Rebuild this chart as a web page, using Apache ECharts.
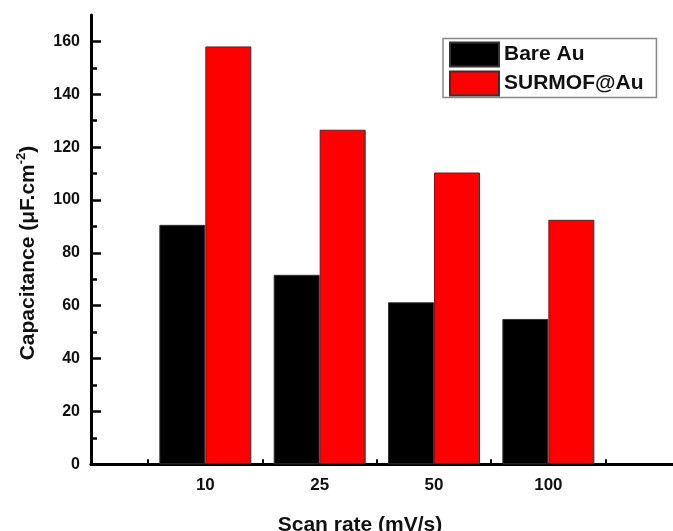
<!DOCTYPE html>
<html><head><meta charset="utf-8">
<script src="https://cdn.jsdelivr.net/npm/echarts@6/dist/echarts.min.js"></script>
<style>html,body{margin:0;padding:0;background:#fff}#c{width:673px;height:531px}</style>
</head><body><div id="c"></div>
<script>
const categories = ['10', '25', '50', '100'];
const categoryPositions = [1, 2, 3, 4];
const bareAu = [90.6, 71.7, 61.3, 55.0];
const surmofAu = [158.1, 126.6, 110.4, 92.5];
const yMajorTicks = [0, 20, 40, 60, 80, 100, 120, 140, 160];
const yMinorTicks = [10, 30, 50, 70, 90, 110, 130, 150];
const xBoundaryTicks = [0.5, 1.5, 2.5, 3.5, 4.5];
const seriesNames = ['Bare Au', 'SURMOF@Au'];

const FONT = "'Liberation Sans', Arial, sans-serif";
const chart = echarts.init(document.getElementById('c'), null, {renderer: 'canvas'});

const pairs = arr => arr.map((v, i) => [categoryPositions[i], v]);

chart.setOption({
  animation: false,
  backgroundColor: '#fff',
  grid: {left: 91, top: 15, bottom: 66.7, right: 0, containLabel: false},
  legend: {
    orient: 'vertical', left: 443, top: 38.5,
    icon: 'rect',
    itemWidth: 49, itemHeight: 24, itemGap: 3,
    padding: [3, 13, 1, 6],
    borderColor: '#888', borderWidth: 1.5,
    textStyle: {fontFamily: FONT, fontSize: 21, fontWeight: 'bold', color: '#111'},
    data: seriesNames
  },
  xAxis: [{
    type: 'value', min: 0, max: 5.09, position: 'bottom',
    splitLine: {show: false},
    axisLine: {show: true, lineStyle: {color: '#000', width: 2.5}},
    axisTick: {show: true, inside: true, length: 5, customValues: xBoundaryTicks, lineStyle: {color: '#000', width: 2}},
    axisLabel: {
      customValues: categoryPositions, margin: 13,
      formatter: v => categories[categoryPositions.indexOf(v)] || '',
      fontFamily: FONT, fontSize: 17, fontWeight: 'bold', color: '#111'
    }
  }, {
    type: 'value', min: 0, max: 5.09, position: 'top',
    splitLine: {show: false},
    axisLine: {show: true, lineStyle: {color: '#000', width: 3}},
    axisTick: {show: false}, axisLabel: {show: false}
  }],
  yAxis: [{
    type: 'value', min: 0, max: 170, position: 'left',
    splitLine: {show: false},
    axisLine: {show: true, lineStyle: {color: '#000', width: 3}},
    axisTick: {show: true, inside: true, length: 10, customValues: yMajorTicks, lineStyle: {color: '#000', width: 2.5}},
    axisLabel: {
      customValues: yMajorTicks, margin: 11,
      fontFamily: FONT, fontSize: 16, fontWeight: 'bold', color: '#111'
    }
  }, {
    type: 'value', min: 0, max: 170, position: 'left',
    splitLine: {show: false},
    axisLine: {show: false},
    axisTick: {show: true, inside: true, length: 6, customValues: yMinorTicks, lineStyle: {color: '#000', width: 2.5}},
    axisLabel: {show: false}
  }],
  graphic: [{
    type: 'text', x: 28, y: 253, rotation: Math.PI / 2,
    style: {
      text: '{n|Capacitance (μF.cm}{s|-2}{n|)}',
      align: 'center', verticalAlign: 'middle',
      rich: {
        n: {fontFamily: FONT, fontSize: 21, fontWeight: 'bold', fill: '#111', lineHeight: 26},
        s: {fontFamily: FONT, fontSize: 13, fontWeight: 'bold', fill: '#111', verticalAlign: 'top', lineHeight: 26}
      }
    }
  }, {
    type: 'text', x: 360, y: 525,
    style: {
      text: 'Scan rate (mV/s)', align: 'center', verticalAlign: 'middle',
      fontFamily: FONT, fontSize: 21, fontWeight: 'bold', fill: '#111'
    }
  }],
  series: [{
    name: seriesNames[0], type: 'bar', xAxisIndex: 0, yAxisIndex: 0,
    barWidth: 46, barGap: '0%',
    itemStyle: {color: '#000', borderColor: '#333', borderWidth: 1},
    data: pairs(bareAu)
  }, {
    name: seriesNames[1], type: 'bar', xAxisIndex: 0, yAxisIndex: 0,
    barWidth: 46, barGap: '0%',
    itemStyle: {color: '#ff0000', borderColor: '#333', borderWidth: 1},
    data: pairs(surmofAu)
  }]
});
</script></body></html>
